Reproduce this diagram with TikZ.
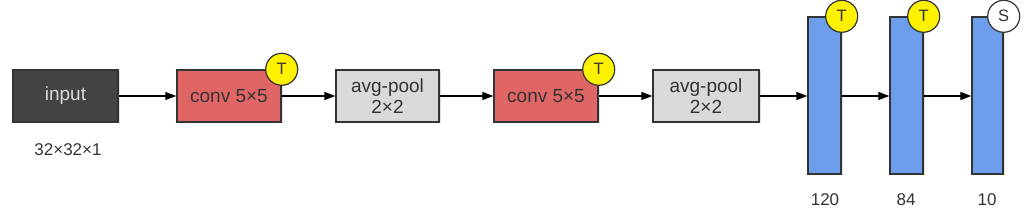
\documentclass[tikz,border=0pt]{standalone}
\usepackage{fontspec}
\setmainfont{Liberation Sans}
\usetikzlibrary{arrows.meta,shadows}
\definecolor{darkbox}{HTML}{434343}
\definecolor{convred}{HTML}{E06666}
\definecolor{poolgray}{HTML}{D9D9D9}
\definecolor{fcblue}{HTML}{6D9EEB}
\definecolor{edgecol}{HTML}{333333}
\definecolor{labcol}{HTML}{333333}
\tikzset{
  block/.style={draw=edgecol, line width=1.4pt, minimum height=52pt, inner sep=0pt,
    font=\fontsize{19}{21}\selectfont, align=center, text=labcol,
    drop shadow={shadow xshift=1.5pt, shadow yshift=-1.5pt, opacity=0.25}},
  inbox/.style={block, fill=darkbox, text=poolgray},
  convbox/.style={block, fill=convred},
  poolbox/.style={block, fill=poolgray},
  fcbox/.style={block, fill=fcblue, minimum height=157pt},
  badge/.style={circle, draw=edgecol, line width=1.2pt, minimum size=32pt, inner sep=0pt,
    font=\fontsize{16.5}{18}\selectfont, text=labcol},
  tbadge/.style={badge, fill=yellow},
  sbadge/.style={badge, fill=white},
  dimlabel/.style={font=\fontsize{17}{19}\selectfont, text=labcol},
  conn/.style={draw=black, line width=1.3pt, -{Triangle[length=11pt,width=8pt]}},
}
\begin{document}
\begin{tikzpicture}[x=1pt,y=-1pt]
\useasboundingbox (0,0) rectangle (1027,216);
\node[inbox, minimum width=105pt] (input) at (65.5,96) {input};
\node[convbox, minimum width=104pt] (conv1) at (229,96) {conv 5×5};
\node[poolbox, minimum width=103pt] (pool1) at (387.5,96) {avg-pool\\2×2};
\node[convbox, minimum width=104pt] (conv2) at (546,96) {conv 5×5};
\node[poolbox, minimum width=106pt] (pool2) at (706,96) {avg-pool\\2×2};
\node[fcbox, minimum width=33pt] (fc1) at (824.5,95.5) {};
\node[fcbox, minimum width=33pt] (fc2) at (906.5,95.5) {};
\node[fcbox, minimum width=31pt] (fc3) at (987.5,95.5) {};

\node[tbadge] (t1) at (conv1.north east) {T};
\node[tbadge] (t2) at (conv2.north east) {T};
\node[tbadge] (t3) at (fc1.north east) {T};
\node[tbadge] (t4) at (fc2.north east) {T};
\node[sbadge] (s1) at (fc3.north east) {S};

\node[dimlabel] (l0) at (68,150) {32×32×1};
\node[dimlabel] (l1) at (825,200) {120};
\node[dimlabel] (l2) at (906,200) {84};
\node[dimlabel] (l3) at (987,200) {10};

\draw[conn] (input.east) -- (conv1.west);
\draw[conn] (conv1.east) -- (pool1.west);
\draw[conn] (pool1.east) -- (conv2.west);
\draw[conn] (conv2.east) -- (pool2.west);
\draw[conn] (pool2.east) -- (fc1.west |- pool2.east);
\draw[conn] (fc1.east |- pool2.east) -- (fc2.west |- pool2.east);
\draw[conn] (fc2.east |- pool2.east) -- (fc3.west |- pool2.east);
\end{tikzpicture}
\end{document}
